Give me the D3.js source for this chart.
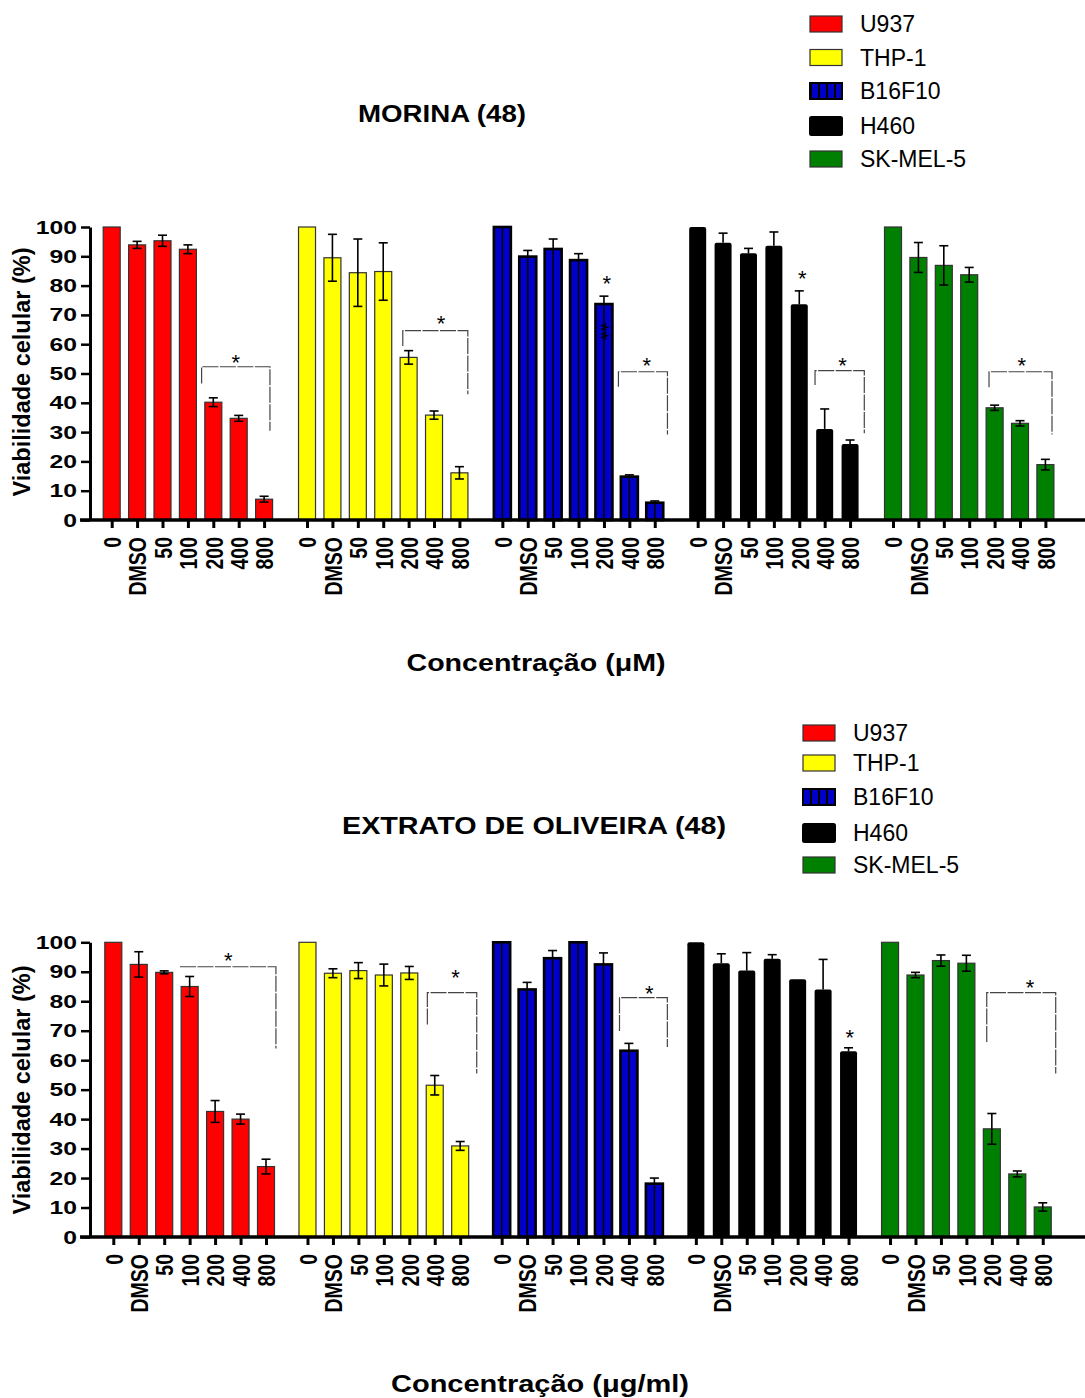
<!DOCTYPE html>
<html>
<head>
<meta charset="utf-8">
<script src="https://cdn.jsdelivr.net/npm/d3@7"></script>
<style>
  body { margin: 0; background: #fff; }
  text { font-family: "Liberation Sans", Arial, sans-serif; }
</style>
</head>
<body>
<div id="chart"></div>
<script>
// categories / series
var categories = ["0", "DMSO", "50", "100", "200", "400", "800"];
var cellLines = ["U937", "THP-1", "B16F10", "H460", "SK-MEL-5"];
var colors = ["#ff0000", "#ffff00", "#0000c8", "#000000", "#008000"];
var yTicks = [0, 10, 20, 30, 40, 50, 60, 70, 80, 90, 100];
var errUpOnly = [false, false, true, true, false];

// MORINA (48) - mean and error
var morinaMean = [
  [100, 93.9, 95.3, 92.4, 40.2, 34.7, 7.1],
  [100, 89.5, 84.4, 84.8, 55.5, 35.8, 16.1],
  [100, 89.9, 92.5, 88.7, 73.7, 14.8, 5.9],
  [100, 94.6, 91.0, 93.6, 73.6, 31.1, 25.9],
  [100, 89.6, 86.9, 83.7, 38.3, 33.0, 18.9]
];
var morinaErr = [
  [0, 1.2, 1.9, 1.5, 1.5, 1.0, 1.0],
  [0, 8.0, 11.5, 9.8, 2.3, 1.4, 2.1],
  [0, 2.1, 3.4, 2.2, 2.7, 0.6, 0.6],
  [0, 3.3, 1.7, 4.7, 4.6, 6.8, 1.4],
  [0, 5.1, 6.7, 2.5, 0.9, 0.9, 1.8]
];
// brackets: [series, from bar, to bar, top value, left leg end, right leg end]
var morinaBrackets = [
  [0, 3.54, 6.23, 52.3, 46.6, 30.5],
  [1, 3.77, 6.33, 64.6, 59.4, 42.9],
  [2, 4.57, 6.50, 50.6, 45.5, 29.2],
  [3, 4.62, 6.56, 51.0, 46.1, 29.6],
  [4, 3.78, 6.26, 50.6, 45.3, 29.2]
];
// stars: [series, bar, value, label]
var morinaStars = [
  [0, 4.89, 55.7, "*"], [1, 5.28, 68.9, "*"], [2, 5.69, 54.4, "*"], [2, 4.11, 82.5, "*"],
  [3, 5.70, 54.6, "*"], [3, 4.12, 84.2, "*"], [4, 5.07, 54.4, "*"]
];
// the stacked "**" written on the B16F10 200 bar
var morinaVStars = [[2, 4.11, 64.3, "**"]];

// EXTRATO DE OLIVEIRA (48)
var oliveMean = [
  [100, 92.5, 89.8, 85.0, 42.6, 40.0, 23.9],
  [100, 89.5, 90.4, 88.9, 89.6, 51.5, 30.9],
  [100, 84.0, 94.6, 100, 92.5, 63.2, 18.1],
  [100, 92.9, 90.4, 94.4, 87.5, 84.0, 63.0],
  [100, 88.9, 93.8, 92.9, 36.7, 21.4, 10.2]
];
var oliveErr = [
  [0, 4.3, 0.5, 3.4, 3.7, 1.7, 2.5],
  [0, 1.5, 2.7, 3.7, 2.2, 3.3, 1.5],
  [0, 2.4, 2.6, 0, 3.9, 2.5, 1.9],
  [0, 3.2, 6.1, 1.4, 0, 10.2, 1.2],
  [0, 0.9, 1.9, 2.7, 5.2, 1.0, 1.4]
];
var oliveBrackets = [
  [0, 2.62, 6.39, 91.7, 91.7, 64.0],
  [1, 4.71, 6.65, 82.9, 72.1, 55.5],
  [2, 4.63, 6.51, 81.2, 69.9, 64.5],
  [4, 3.80, 6.51, 82.9, 66.2, 55.5]
];
var oliveStars = [
  [0, 4.52, 95.7, "*"], [1, 5.82, 89.7, "*"], [2, 5.80, 84.4, "*"], [3, 6.05, 69.6, "*"], [4, 5.50, 86.4, "*"]
];

var svg = d3.select("#chart").append("svg")
  .attr("width", 1085)
  .attr("height", 1398);

// stripes for the B16F10 legend box
var pat = svg.append("defs").append("pattern")
  .attr("id", "stripes")
  .attr("patternUnits", "userSpaceOnUse")
  .attr("width", 8).attr("height", 8)
  .attr("x", 2);
pat.append("rect").attr("width", 8).attr("height", 8).attr("fill", colors[2]);
pat.append("rect").attr("x", 0).attr("width", 2).attr("height", 8).attr("fill", "#000");

function drawPanel(o) {
  var g = svg.append("g");

  var y = d3.scaleLinear().domain([0, 100]).range([o.yBase, o.yTop]);
  var x = d3.scaleLinear().domain([0, 1]).range([o.xFirst, o.xFirst + o.slot]);
  var pos = function(s, i) { return s * o.groupGap + i; };

  // bars
  o.mean.forEach(function(vals, s) {
    var sg = g.append("g");
    sg.selectAll("rect")
      .data(vals)
      .enter()
      .append("rect")
      .attr("x", (d, i) => x(pos(s, i)) - 8.5)
      .attr("y", d => y(d))
      .attr("width", 17)
      .attr("height", d => o.yBase - y(d))
      .attr("rx", s == 3 ? 2 : 0)
      .attr("fill", colors[s])
      .attr("stroke", s == 2 ? "#000" : (s == 3 ? "none" : "#333"))
      .attr("stroke-width", s == 2 ? 2.6 : 1.2);
    if (s == 2) {
      sg.selectAll("line.mid")
        .data(vals)
        .enter()
        .append("line")
        .attr("x1", (d, i) => x(pos(s, i)))
        .attr("x2", (d, i) => x(pos(s, i)))
        .attr("y1", d => y(d))
        .attr("y2", o.yBase)
        .attr("stroke", "#000")
        .attr("stroke-width", 1.5);
    }
    // error bars
    vals.forEach(function(v, i) {
      var e = o.err[s][i];
      if (!e) return;
      var cx = x(pos(s, i));
      var lo = errUpOnly[s] ? v : v - e;
      g.append("line")
        .attr("x1", cx).attr("x2", cx)
        .attr("y1", y(v + e)).attr("y2", y(lo))
        .attr("stroke", "#000").attr("stroke-width", 1.6);
      g.append("line")
        .attr("x1", cx - 4.5).attr("x2", cx + 4.5)
        .attr("y1", y(v + e)).attr("y2", y(v + e))
        .attr("stroke", "#000").attr("stroke-width", 1.6);
      if (!errUpOnly[s]) {
        g.append("line")
          .attr("x1", cx - 4.5).attr("x2", cx + 4.5)
          .attr("y1", y(lo)).attr("y2", y(lo))
          .attr("stroke", "#000").attr("stroke-width", 1.6);
      }
    });
  });

  // significance brackets
  o.brackets.forEach(function(b) {
    var xa = x(pos(b[0], b[1])), xb = x(pos(b[0], b[2]));
    var pts = [[xa, y(b[4])], [xa, y(b[3])], [xb, y(b[3])], [xb, y(b[5])]];
    g.append("path")
      .attr("d", d3.line()(pts))
      .attr("fill", "none")
      .attr("stroke", "#444")
      .attr("stroke-width", 1.2)
      .attr("stroke-dasharray", "16,1.5");
  });
  o.stars.forEach(function(st) {
    g.append("text")
      .attr("x", x(pos(st[0], st[1])))
      .attr("y", y(st[2]))
      .attr("dy", "0.58em")
      .attr("text-anchor", "middle")
      .attr("font-size", 22)
      .text(st[3]);
  });
  (o.vstars || []).forEach(function(st) {
    g.append("text")
      .attr("transform", "translate(" + x(pos(st[0], st[1])) + "," + y(st[2]) + ") rotate(90)")
      .attr("dy", "0.58em")
      .attr("text-anchor", "middle")
      .attr("font-size", 22)
      .text(st[3]);
  });

  // y axis
  var yAxis = g.append("g")
    .attr("transform", "translate(90,0)")
    .call(d3.axisLeft(y).tickValues(yTicks).tickSize(9).tickSizeOuter(0));
  yAxis.select(".domain").attr("stroke-width", 3);
  yAxis.selectAll(".tick line").attr("stroke-width", 2.5);
  yAxis.selectAll(".tick text")
    .attr("x", -10)
    .attr("transform", "scale(1.3,1)")
    .attr("font-size", 19)
    .attr("font-weight", "bold")
    .attr("font-family", "Liberation Sans, Arial, sans-serif")
    .attr("fill", "#000");

  // x axis
  var allPos = [];
  cellLines.forEach(function(c, s) {
    categories.forEach(function(cat, i) { allPos.push(pos(s, i)); });
  });
  var xAxis = g.append("g")
    .attr("transform", "translate(0," + o.yBase + ")")
    .call(d3.axisBottom(x).tickValues(allPos)
      .tickFormat((d, i) => categories[i % categories.length])
      .tickSize(8).tickSizeOuter(0));
  xAxis.select(".domain").remove();
  xAxis.selectAll(".tick line").attr("stroke-width", 3);
  xAxis.selectAll(".tick text")
    .attr("x", 0).attr("y", 0)
    .attr("dy", "0.36em")
    .attr("transform", "translate(0,17) scale(1.25,1) rotate(-90)")
    .attr("text-anchor", "end")
    .attr("font-size", 19.5)
    .attr("font-weight", "bold")
    .attr("font-family", "Liberation Sans, Arial, sans-serif")
    .attr("fill", "#000");
  g.append("line")
    .attr("x1", 80).attr("x2", 1085)
    .attr("y1", o.yBase).attr("y2", o.yBase)
    .attr("stroke", "#000").attr("stroke-width", 3.5);

  // titles
  g.append("text")
    .attr("x", o.titleX).attr("y", o.titleY)
    .attr("text-anchor", "middle")
    .attr("font-size", 24).attr("font-weight", "bold")
    .attr("textLength", o.titleW).attr("lengthAdjust", "spacingAndGlyphs")
    .text(o.title);
  g.append("text")
    .attr("x", o.xTitleX).attr("y", o.xTitleY)
    .attr("text-anchor", "middle")
    .attr("font-size", 24).attr("font-weight", "bold")
    .attr("textLength", o.xTitleW).attr("lengthAdjust", "spacingAndGlyphs")
    .text(o.xTitle);
  g.append("text")
    .attr("transform", "translate(22," + o.yTitleY + ") rotate(-90)")
    .attr("dy", "0.35em")
    .attr("text-anchor", "middle")
    .attr("font-size", 23.5).attr("font-weight", "bold")
    .text("Viabilidade celular (%)");

  // legend
  cellLines.forEach(function(c, s) {
    var ly = o.legendY[s];
    var big = s == 3;
    g.append("rect")
      .attr("x", o.legendX - (big ? 1 : 0)).attr("y", ly - (big ? 10 : 8))
      .attr("width", big ? 34 : 32).attr("height", big ? 20 : 16)
      .attr("rx", big ? 2.5 : 0)
      .attr("fill", s == 2 ? "url(#stripes)" : colors[s])
      .attr("stroke", big ? "none" : (s == 2 ? "#000" : "#333"))
      .attr("stroke-width", s == 2 ? 2 : 1.2);
    g.append("text")
      .attr("x", o.legendX + 50).attr("y", ly)
      .attr("dy", "0.36em")
      .attr("font-size", 23)
      .text(c);
  });
}

drawPanel({
  mean: morinaMean, err: morinaErr, brackets: morinaBrackets, stars: morinaStars, vstars: morinaVStars,
  yBase: 520, yTop: 227, xFirst: 111.7, slot: 25.4, groupGap: 7.69,
  title: "MORINA (48)", titleX: 442, titleY: 122, titleW: 168,
  xTitle: "Concentração (\u03bcM)", xTitleX: 536, xTitleY: 671, xTitleW: 259,
  yTitleY: 372,
  legendX: 810, legendY: [24, 57.5, 91, 126, 159]
});

drawPanel({
  mean: oliveMean, err: oliveErr, brackets: oliveBrackets, stars: oliveStars,
  yBase: 1237, yTop: 942.3, xFirst: 113.3, slot: 25.45, groupGap: 7.63,
  title: "EXTRATO DE OLIVEIRA (48)", titleX: 534, titleY: 834, titleW: 384,
  xTitle: "Concentração (\u03bcg/ml)", xTitleX: 540, xTitleY: 1392, xTitleW: 298,
  yTitleY: 1090,
  legendX: 803, legendY: [733, 763, 797, 833, 865]
});
</script>
</body>
</html>
